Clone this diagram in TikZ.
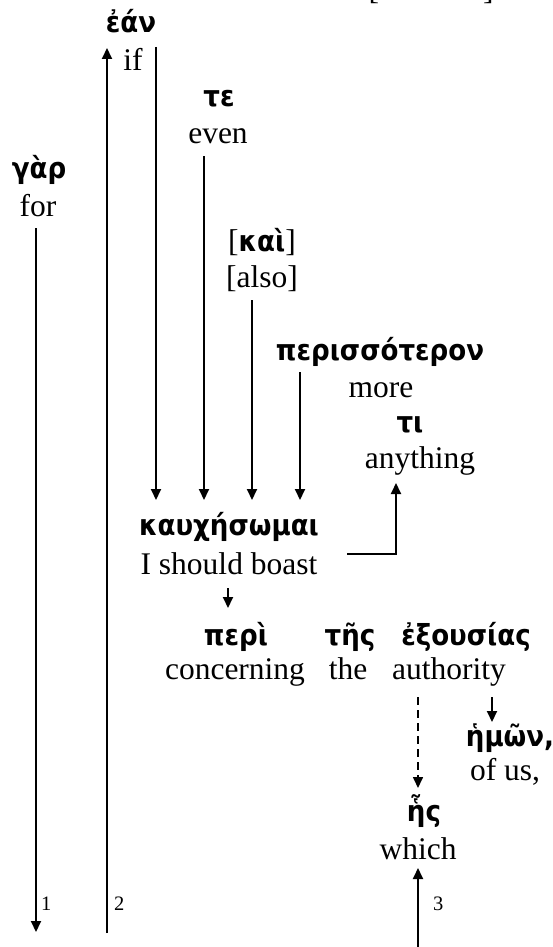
\documentclass[tikz,border=0pt]{standalone}
\usepackage{fontspec}
\setmainfont{Liberation Serif}
\newfontfamily\gk{DejaVu Sans}[FakeStretch=0.9]
\usetikzlibrary{arrows.meta}
\begin{document}
\begin{tikzpicture}[x=1pt,y=-1pt,
  en/.style={inner sep=0pt,anchor=base,font=\fontsize{31.5}{36}\selectfont},
  gr/.style={inner sep=0pt,anchor=base,font=\fontsize{29}{33}\selectfont\gk\bfseries},
  num/.style={inner sep=0pt,anchor=base west,font=\fontsize{20.5}{24}\selectfont},
  link/.style={line width=2pt,-{Triangle[length=11pt,width=10pt]}},
  dlink/.style={line width=1.6pt,dash pattern=on 8pt off 5pt,-{Triangle[length=11pt,width=10pt]}},
]
\useasboundingbox (0,0) rectangle (553,947);
\fill[white] (0,0) rectangle (553,947);
% text
\node[en] (prev) at (431,0) {[\hspace{104pt}]};
\node[gr] (ean) at (131,33) {ἐάν};
\node[en] (if) at (133,71) {if};
\node[gr] (te) at (219,107) {τε};
\node[en] (even) at (218,143) {even};
\node[gr] (gar) at (39,178) {γὰρ};
\node[en] (for) at (38,216) {for};
\node[en] (kai) at (262,251) {[{\fontsize{29}{33}\selectfont\gk\bfseries καὶ}]};
\node[en] (also) at (262,287) {[also]};
\node[gr] (peris) at (380,360) {περισσότερον};
\node[en] (more) at (381,397) {more};
\node[gr] (ti) at (410,432) {τι};
\node[en] (anything) at (420,468) {anything};
\node[gr] (kau) at (229,535) {καυχήσωμαι};
\node[en] (boast) at (229,574) {I should boast};
\node[gr] (peri) at (236,645) {περὶ};
\node[gr] (tes) at (350,645) {τῆς};
\node[gr] (exo) at (466,645) {ἐξουσίας};
\node[en] (conc) at (235,679) {concerning};
\node[en] (the) at (348,679) {the};
\node[en] (auth) at (449,679) {authority};
\node[gr] (hmon) at (510,746) {ἡμῶν,};
\node[en] (ofus) at (505,780) {of us,};
\node[gr] (hes) at (424,821) {ἧς};
\node[en] (which) at (418,859) {which};
\node[num] (n1) at (41,910) {1};
\node[num] (n2) at (114,910) {2};
\node[num] (n3) at (433,910) {3};
% connector ends
\coordinate (garS) at (36,228);   \coordinate (garE) at (36,932);
\coordinate (eanS) at (107,933);  \coordinate (eanE) at (107,48);
\coordinate (ifS)  at (156,47);   \coordinate (ifE)  at (156,500);
\coordinate (teS)  at (204,156);  \coordinate (teE)  at (204,500);
\coordinate (kaiS) at (252,300);  \coordinate (kaiE) at (252,500);
\coordinate (perS) at (300,372);  \coordinate (perE) at (300,500);
\coordinate (tiS)  at (347,554);  \coordinate (tiC)  at (396,554); \coordinate (tiE) at (396,483);
\coordinate (prS)  at (228,588);  \coordinate (prE)  at (228,608);
\coordinate (hmS)  at (492,697);  \coordinate (hmE)  at (492,722);
\coordinate (hsS)  at (418,697);  \coordinate (hsE)  at (418,788);
\coordinate (whS)  at (418,947);  \coordinate (whE)  at (418,868);
% connectors
\draw[link] (garS) -- (garE);
\draw[link] (eanS) -- (eanE);
\draw[link] (ifS) -- (ifE);
\draw[link] (teS) -- (teE);
\draw[link] (kaiS) -- (kaiE);
\draw[link] (perS) -- (perE);
\draw[link] (tiS) -- (tiC) -- (tiE);
\draw[link] (prS) -- (prE);
\draw[link] (hmS) -- (hmE);
\draw[dlink] (hsS) -- (hsE);
\draw[link] (whS) -- (whE);
\end{tikzpicture}
\end{document}
